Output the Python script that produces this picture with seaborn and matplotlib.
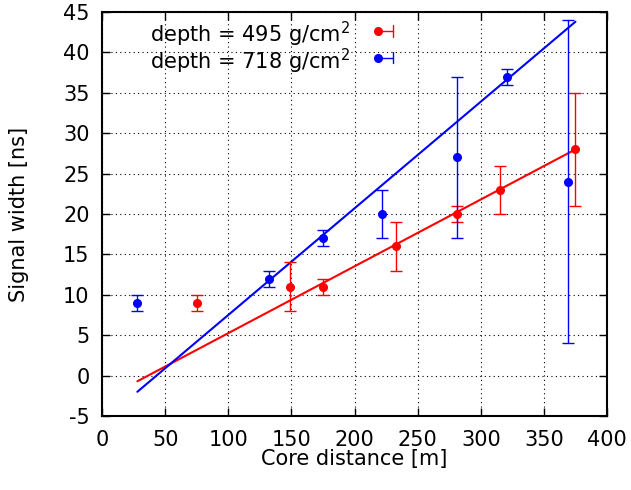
import matplotlib
matplotlib.use("Agg")
import matplotlib.pyplot as plt
from matplotlib.legend_handler import HandlerBase
from matplotlib.lines import Line2D
import seaborn as sns
import numpy as np

# depth = 495 g/cm2 (red)
dist_495 = [75, 149, 175, 233, 281, 315, 375]
width_495 = [9, 11, 11, 16, 20, 23, 28]
lo_495 = [8, 8, 10, 13, 19, 20, 21]
hi_495 = [10, 14, 12, 19, 21, 26, 35]

# depth = 718 g/cm2 (blue)
dist_718 = [28, 132, 175, 222, 281, 321, 369]
width_718 = [9, 12, 17, 20, 27, 37, 24]
lo_718 = [8, 11, 16, 17, 17, 36, 4]
hi_718 = [10, 13, 18, 23, 37, 38, 44]

# fitted lines (end points)
fit_x = [28, 375]
fit_495 = [-0.7, 28.0]
fit_718 = [-2.0, 43.8]

labels = ["depth = 495 g/cm$^2$", "depth = 718 g/cm$^2$"]

sns.set_style("white")
plt.rcParams['font.family'] = ['DejaVu Sans']
plt.rcParams['mathtext.default'] = 'regular'
plt.rcParams['axes.unicode_minus'] = False
for k in ['text.color', 'axes.labelcolor', 'xtick.color', 'ytick.color']:
    plt.rcParams[k] = 'black'

FS = 15


class KeyHandler(HandlerBase):
    # gnuplot-like key sample: dot, short line, end cap
    def create_artists(self, legend, orig_handle, xdescent, ydescent,
                       width, height, fontsize, trans):
        c = orig_handle.get_color()
        y = height / 2 - ydescent + 3
        x0, x1 = -xdescent, width - xdescent
        line = Line2D([x0, x1], [y, y], color=c, lw=1, transform=trans)
        cap = Line2D([x1, x1], [y - 4, y + 4], color=c, lw=1, transform=trans)
        dot = Line2D([x0], [y], marker='o', ms=5.5, color=c, lw=0, transform=trans)
        return [line, cap, dot]


fig = plt.figure(figsize=(6.31, 4.9), dpi=100)
ax = fig.add_axes([0.1617, 0.151, 0.8003, 0.8245])

sns.lineplot(x=fit_x, y=fit_495, color='red', lw=1.5, ax=ax)
sns.lineplot(x=fit_x, y=fit_718, color='blue', lw=1.5, ax=ax)


def err(w, lo, hi):
    w, lo, hi = np.array(w), np.array(lo), np.array(hi)
    return [w - lo, hi - w]


ax.errorbar(dist_495, width_495, yerr=err(width_495, lo_495, hi_495), fmt='o',
            color='red', ms=5.5, capsize=4, elinewidth=1, capthick=1)
ax.errorbar(dist_718, width_718, yerr=err(width_718, lo_718, hi_718), fmt='o',
            color='blue', ms=5.5, capsize=4, elinewidth=1, capthick=1)

ax.set_xlim(0, 400)
ax.set_ylim(-5, 45)
ax.set_xticks(range(0, 401, 50))
ax.set_yticks(range(-5, 46, 5))
ax.grid(True, color='black', linestyle=(0, (1, 3)), linewidth=0.8)
ax.tick_params(direction='in', length=6, width=1, bottom=True, left=True,
               top=True, right=True, labelsize=FS)
ax.tick_params(axis='x', pad=10)
ax.tick_params(axis='y', pad=9)
for s in ax.spines.values():
    s.set_linewidth(1.5)
    s.set_color('black')

ax.set_xlabel("Core distance [m]", fontsize=FS, va='top')
ax.set_ylabel("Signal width [ns]", fontsize=FS)
ax.xaxis.set_label_coords(0.5, -0.082)
ax.yaxis.set_label_coords(-0.145, 0.5)

key = [Line2D([], [], color='red'), Line2D([], [], color='blue')]
ax.legend(key, labels, handler_map={Line2D: KeyHandler()},
          loc='upper left', bbox_to_anchor=(0.095, 0.98), frameon=False,
          markerfirst=False, fontsize=FS, labelspacing=-0.12, handlelength=0.72,
          handletextpad=1.35, borderpad=0, borderaxespad=0)

fig.savefig("out.png", dpi=100)
